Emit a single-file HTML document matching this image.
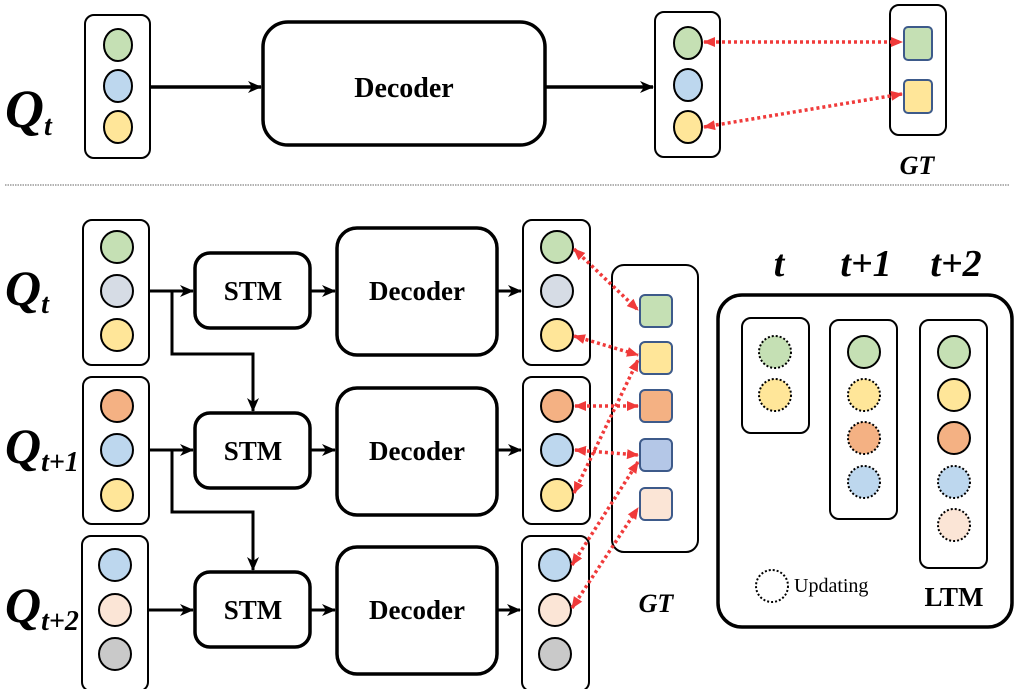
<!DOCTYPE html>
<html><head><meta charset="utf-8"><style>html,body{margin:0;padding:0;background:#fff}svg{display:block}</style></head><body>
<svg width="1016" height="689" viewBox="0 0 1016 689" xmlns="http://www.w3.org/2000/svg" font-family="Liberation Serif, serif">
<defs>
<marker id="ah" markerWidth="14" markerHeight="14" refX="13" refY="7" orient="auto" markerUnits="userSpaceOnUse"><path d="M0,1 L14,7 L0,13 L4,7z" fill="#000"/></marker>
<marker id="rh" markerWidth="12" markerHeight="12" refX="11" refY="6" orient="auto-start-reverse" markerUnits="userSpaceOnUse"><path d="M0,1 L12,6 L0,11z" fill="#f03a3a"/></marker>
</defs>
<g fill="none" stroke="#000">
<rect x="85" y="15" width="65" height="143" rx="9" stroke-width="2"/>
<rect x="263" y="22" width="282" height="123" rx="25" stroke-width="3.5"/>
<rect x="655" y="12" width="65" height="145" rx="9" stroke-width="2"/>
<rect x="890" y="5" width="56" height="130" rx="9" stroke-width="2"/>
<line x1="150" y1="87" x2="261" y2="87" stroke-width="3.5" marker-end="url(#ah)"/>
<line x1="545" y1="87" x2="653" y2="87" stroke-width="3.5" marker-end="url(#ah)"/>
</g>
<g stroke="#000" stroke-width="2">
<ellipse cx="118" cy="45" rx="14" ry="16" fill="#c5e0b4"/>
<ellipse cx="118" cy="86" rx="14" ry="16" fill="#bdd7ee"/>
<ellipse cx="118" cy="127" rx="14" ry="16" fill="#ffe699"/>
<ellipse cx="688" cy="43" rx="14" ry="16" fill="#c5e0b4"/>
<ellipse cx="688" cy="85" rx="14" ry="16" fill="#bdd7ee"/>
<ellipse cx="688" cy="127" rx="14" ry="16" fill="#ffe699"/>
</g>
<rect x="904" y="27" width="28" height="33" rx="4" fill="#c5e0b4" stroke="#3d5a8a" stroke-width="2"/>
<rect x="904" y="80" width="28" height="33" rx="4" fill="#ffe699" stroke="#3d5a8a" stroke-width="2"/>
<g stroke="#f03a3a" stroke-width="3.5" stroke-dasharray="3,3" fill="none" marker-start="url(#rh)" marker-end="url(#rh)">
<line x1="704" y1="42" x2="902" y2="42"/>
<line x1="704" y1="127" x2="902" y2="94"/>
</g>
<text x="5" y="127" font-size="54" font-weight="bold" font-style="italic">Q<tspan font-size="28" dy="8">t</tspan></text>
<text x="404" y="97" font-size="28" font-weight="bold" text-anchor="middle">Decoder</text>
<text x="917" y="174" font-size="26" font-weight="bold" font-style="italic" text-anchor="middle">GT</text>
<line x1="5" y1="185" x2="1010" y2="185" stroke="#999" stroke-width="1.5" stroke-dasharray="1.5,1"/>

<g fill="none" stroke="#000" stroke-width="2">
<rect x="83" y="220" width="66" height="145" rx="9"/>
<rect x="83" y="377" width="66" height="147" rx="9"/>
<rect x="82" y="536" width="66" height="155" rx="9"/>
<rect x="523" y="220" width="67" height="145" rx="9"/>
<rect x="523" y="377" width="67" height="147" rx="9"/>
<rect x="522" y="536" width="67" height="155" rx="9"/>
<rect x="612" y="265" width="86" height="287" rx="12"/>
</g>
<g fill="none" stroke="#000" stroke-width="3.5">
<rect x="195" y="253" width="115" height="75" rx="15"/>
<rect x="195" y="413" width="115" height="75" rx="15"/>
<rect x="195" y="572" width="115" height="75" rx="15"/>
<rect x="337" y="228" width="160" height="127" rx="20"/>
<rect x="337" y="388" width="160" height="127" rx="20"/>
<rect x="337" y="547" width="160" height="127" rx="20"/>
<rect x="718" y="295" width="294" height="332" rx="24"/>
</g>
<g fill="none" stroke="#000" stroke-width="3">
<line x1="149" y1="291" x2="193" y2="291" marker-end="url(#ah)"/>
<polyline points="172,291 172,354 253,354 253,411" marker-end="url(#ah)"/>
<line x1="149" y1="450" x2="193" y2="450" marker-end="url(#ah)"/>
<polyline points="172,450 172,512 253,512 253,570" marker-end="url(#ah)"/>
<line x1="148" y1="610" x2="193" y2="610" marker-end="url(#ah)"/>
<line x1="310" y1="291" x2="335" y2="291" marker-end="url(#ah)"/>
<line x1="310" y1="450" x2="335" y2="450" marker-end="url(#ah)"/>
<line x1="310" y1="610" x2="335" y2="610" marker-end="url(#ah)"/>
<line x1="497" y1="291" x2="521" y2="291" marker-end="url(#ah)"/>
<line x1="497" y1="450" x2="521" y2="450" marker-end="url(#ah)"/>
<line x1="497" y1="610" x2="520" y2="610" marker-end="url(#ah)"/>
</g>
<g stroke="#000" stroke-width="2">
<circle cx="117" cy="247" r="16" fill="#c5e0b4"/>
<circle cx="117" cy="291" r="16" fill="#d6dce5"/>
<circle cx="117" cy="335" r="16" fill="#ffe699"/>
<circle cx="117" cy="406" r="16" fill="#f4b183"/>
<circle cx="117" cy="450" r="16" fill="#bdd7ee"/>
<circle cx="117" cy="495" r="16" fill="#ffe699"/>
<circle cx="115" cy="565" r="16" fill="#bdd7ee"/>
<circle cx="115" cy="610" r="16" fill="#fbe5d6"/>
<circle cx="115" cy="654" r="16" fill="#c9c9c9"/>
<circle cx="557" cy="247" r="16" fill="#c5e0b4"/>
<circle cx="557" cy="291" r="16" fill="#d6dce5"/>
<circle cx="557" cy="335" r="16" fill="#ffe699"/>
<circle cx="557" cy="406" r="16" fill="#f4b183"/>
<circle cx="557" cy="450" r="16" fill="#bdd7ee"/>
<circle cx="557" cy="495" r="16" fill="#ffe699"/>
<circle cx="555" cy="565" r="16" fill="#bdd7ee"/>
<circle cx="555" cy="610" r="16" fill="#fbe5d6"/>
<circle cx="555" cy="654" r="16" fill="#c9c9c9"/>
</g>
<g stroke="#3d5a8a" stroke-width="2">
<rect x="640" y="295" width="32" height="32" rx="5" fill="#c5e0b4"/>
<rect x="640" y="342" width="32" height="32" rx="5" fill="#ffe699"/>
<rect x="640" y="390" width="32" height="32" rx="5" fill="#f4b183"/>
<rect x="640" y="439" width="32" height="32" rx="5" fill="#b4c7e7"/>
<rect x="640" y="488" width="32" height="32" rx="5" fill="#fbe5d6"/>
</g>
<g stroke="#f03a3a" stroke-width="3.5" stroke-dasharray="3,3" fill="none" marker-start="url(#rh)" marker-end="url(#rh)">
<line x1="574" y1="249" x2="638" y2="310"/>
<line x1="574" y1="336" x2="638" y2="355"/>
<line x1="575" y1="406" x2="638" y2="406"/>
<line x1="575" y1="450" x2="638" y2="455"/>
<line x1="574" y1="493" x2="638" y2="360"/>
<line x1="572" y1="565" x2="638" y2="462"/>
<line x1="572" y1="608" x2="638" y2="508"/>
</g>
<g font-weight="bold" font-size="27" text-anchor="middle">
<text x="253" y="300">STM</text>
<text x="253" y="460">STM</text>
<text x="253" y="619">STM</text>
<text x="417" y="300">Decoder</text>
<text x="417" y="460">Decoder</text>
<text x="417" y="619">Decoder</text>
<text x="954" y="606">LTM</text>
</g>
<g font-size="50" font-weight="bold" font-style="italic">
<text x="5" y="305">Q<tspan font-size="28" dy="8">t</tspan></text>
<text x="5" y="463">Q<tspan font-size="28" dy="8">t+1</tspan></text>
<text x="5" y="622">Q<tspan font-size="28" dy="8">t+2</tspan></text>
</g>
<text x="656" y="612" font-size="26" font-weight="bold" font-style="italic" text-anchor="middle">GT</text>
<g font-size="38" font-weight="bold" font-style="italic" text-anchor="middle">
<text x="779" y="276">t</text>
<text x="866" y="276">t+1</text>
<text x="956" y="276">t+2</text>
</g>
<g fill="none" stroke="#000" stroke-width="2">
<rect x="742" y="318" width="67" height="115" rx="9"/>
<rect x="830" y="320" width="67" height="199" rx="9"/>
<rect x="920" y="320" width="67" height="248" rx="9"/>
</g>
<g stroke="#000" stroke-width="2">
<circle cx="775" cy="352" r="16" fill="#c5e0b4" stroke-dasharray="2,2"/>
<circle cx="775" cy="395" r="16" fill="#ffe699" stroke-dasharray="2,2"/>
<circle cx="864" cy="352" r="16" fill="#c5e0b4"/>
<circle cx="864" cy="395" r="16" fill="#ffe699" stroke-dasharray="2,2"/>
<circle cx="864" cy="438" r="16" fill="#f4b183" stroke-dasharray="2,2"/>
<circle cx="864" cy="482" r="16" fill="#bdd7ee" stroke-dasharray="2,2"/>
<circle cx="954" cy="352" r="16" fill="#c5e0b4"/>
<circle cx="954" cy="395" r="16" fill="#ffe699"/>
<circle cx="954" cy="438" r="16" fill="#f4b183"/>
<circle cx="954" cy="482" r="16" fill="#bdd7ee" stroke-dasharray="2,2"/>
<circle cx="954" cy="525" r="16" fill="#fbe5d6" stroke-dasharray="2,2"/>
<circle cx="772" cy="586" r="16" fill="none" stroke-dasharray="2,2"/>
</g>
<text x="794" y="592" font-size="20">Updating</text>
</svg>
</body></html>
